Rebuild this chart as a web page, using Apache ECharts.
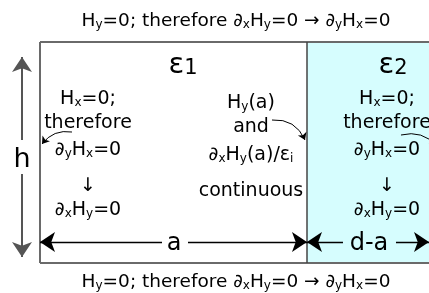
<!DOCTYPE html>
<html><head><meta charset="utf-8">
<script src="https://cdn.jsdelivr.net/npm/echarts@6/dist/echarts.min.js"></script>
<style>html,body{margin:0;padding:0;background:#fff}#c{width:429px;height:293px}</style>
</head><body><div id="c"></div>
<script>
// geometry in units of the waveguide: a = dielectric boundary, d = full width, h = height
const a = 1;
const d = 1.457;
const h = 1;
const dimLabels = ['h', 'a', 'd-a'];
const regionLabels = ['ε_1', 'ε_2'];
const boundaryText = ['H_y=0; therefore ∂_xH_y=0 → ∂_yH_x=0', 'H_y=0; therefore ∂_xH_y=0 → ∂_yH_x=0'];
const leftCol = ['H_x=0;', 'therefore', '∂_yH_x=0', '↓', '∂_xH_y=0'];
const midCol = ['H_y(a)', 'and', '∂_xH_y(a)/ε_i', 'continuous'];
const rightCol = ['H_x=0;', 'therefore', '∂_yH_x=0', '↓', '∂_xH_y=0'];

const FONT = 'DejaVu Sans';
function toRich(str) {
  let out = '', buf = '';
  for (let i = 0; i < str.length; i++) {
    if (str[i] === '_' && i + 1 < str.length) {
      if (buf) { out += '{n|' + buf + '}'; buf = ''; }
      out += '{s|' + str[i + 1] + '}';
      i++;
    } else buf += str[i];
  }
  if (buf) out += '{n|' + buf + '}';
  return out;
}
function txt(str, x, y, size, sub) {
  const lh = Math.round(size * 1.2);
  return {
    text: toRich(str), left: x, top: y, padding: 0, itemGap: 0,
    textAlign: 'center', textVerticalAlign: 'middle', z: 10,
    textStyle: {
      fontFamily: FONT, fontSize: size, fontWeight: 'normal', color: '#000', lineHeight: lh,
      rich: {
        n: { fontFamily: FONT, fontSize: size, lineHeight: lh, verticalAlign: 'bottom', color: '#000' },
        s: { fontFamily: FONT, fontSize: sub, lineHeight: Math.round(lh * 0.62), verticalAlign: 'bottom', color: '#000' }
      }
    }
  };
}

const chart = echarts.init(document.getElementById('c'), null, { renderer: 'canvas' });
const G = { left: 40, top: 42, w: 267 / a, hgt: 221 / h };
function P(px, py) { return [(px - G.left) / G.w, (G.top + 221 - py) / G.hgt]; }
function X(px) { return (px - G.left) / G.w; }

const titles = [];
titles.push(txt(boundaryText[0], 236, 20, 18.5, 12));
titles.push(txt(boundaryText[1], 236, 281, 18.5, 12));
titles.push(txt(regionLabels[0], 183, 62, 29, 21));
titles.push(txt(regionLabels[1], 393, 62, 29, 21));
const colY = [97, 121, 148, 184, 208];
leftCol.forEach((s, i) => titles.push(txt(s, 88, colY[i], 19, 12)));
rightCol.forEach((s, i) => titles.push(txt(s, 387, colY[i], 19, 12)));
const midY = [101, 125, 153, 189];
midCol.forEach((s, i) => titles.push(txt(s, 251, midY[i], 19, 12)));
titles.push(txt(dimLabels[0], 22, 157, 27, 16));
titles.push(txt(dimLabels[1], 174, 241, 24, 16));
titles.push(txt(dimLabels[2], 369, 241, 24, 16));

const yArrow = 0.095;
const hTop = [P(22, 140), P(22, 57)];
const hBot = [P(22, 174), P(22, 257)];
const dimSegs = [
  [[X(162), yArrow], [0, yArrow]],
  [[X(188), yArrow], [a, yArrow]],
  [[X(343), yArrow], [a, yArrow]],
  [[X(396), yArrow], [d, yArrow]]
];
const curved = [
  [P(72, 132), P(42, 144), -0.3],
  [P(272, 120), P(305, 140), 0.35],
  [P(401, 135), P(437, 146), 0.3]
];

chart.setOption({
  animation: false,
  title: titles,
  grid: { left: 40, top: 42, right: 0, bottom: 30, show: false },
  xAxis: { type: 'value', min: 0, max: d, show: false },
  yAxis: { type: 'value', min: 0, max: h, show: false },
  series: [
    { type: 'line', silent: true, symbol: 'none', data: [],
      markArea: { silent: true, itemStyle: { color: '#d6fdfe' }, data: [[{ coord: [a, 0] }, { coord: [d, h] }]] } },
    { type: 'lines', coordinateSystem: 'cartesian2d', silent: true, symbol: 'none', clip: false, z: 3,
      lineStyle: { color: '#6a6a6a', width: 2, opacity: 1 },
      data: [
        { coords: [[0, 0], [0, h]] },
        { coords: [[0, h], [d + 0.05, h]] },
        { coords: [[0, 0], [d + 0.05, 0]] },
        { coords: [[a, 0], [a, h]], lineStyle: { color: '#444', width: 1.5 } }
      ] },
    { type: 'lines', coordinateSystem: 'cartesian2d', silent: true, clip: false, z: 4,
      symbol: ['none', 'arrow'], symbolSize: [9, 15],
      lineStyle: { color: '#000', width: 1.3, opacity: 1 },
      data: dimSegs.map(c => ({ coords: c })) },
    { type: 'lines', coordinateSystem: 'cartesian2d', silent: true, clip: false, z: 4,
      symbol: ['none', 'arrow'], symbolSize: [9, 15],
      lineStyle: { color: '#555', width: 2, opacity: 1 },
      data: [{ coords: hTop }, { coords: hBot }] },
    { type: 'lines', coordinateSystem: 'cartesian2d', silent: true, clip: false, z: 4,
      symbol: ['none', 'arrow'], symbolSize: [5, 7],
      lineStyle: { color: '#000', width: 1, opacity: 1 },
      data: curved.map(c => ({ coords: [c[0], c[1]], lineStyle: { curveness: c[2] } })) }
  ]
});
</script></body></html>
